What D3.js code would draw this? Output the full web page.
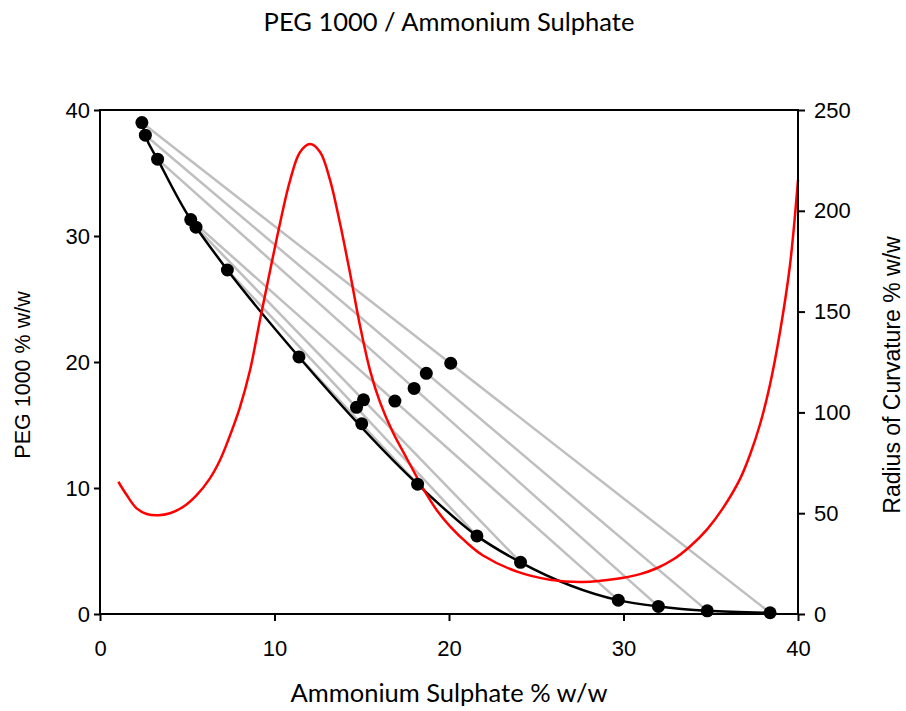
<!DOCTYPE html>
<html lang="en">
<head>
    <meta charset="UTF-8">
    <title>PEG 1000 / Ammonium Sulphate</title>
    <script src="https://d3js.org/d3.v7.min.js"></script>
    <style>
        body { margin: 0; background: #fff; }
        #chart text { fill: #000; }
        .tick text { font-family: "Liberation Sans", Arial, sans-serif; font-size: 22px; }
        .tick line { stroke: #000; stroke-width: 2; }
    </style>
</head>
<body>
    <svg id="chart"></svg>
    <script>
        const width = 906;
        const height = 711;

        // binodal points (top phase end and bottom phase end of each tie line)
        const topAS  = [2.4, 2.6, 3.3, 5.2, 5.5, 7.3, 11.4];
        const topPEG = [39.0, 38.0, 36.1, 31.3, 30.7, 27.3, 20.4];
        const botAS  = [38.4, 34.8, 32.0, 29.7, 24.1, 21.6, 18.2];
        const botPEG = [0.1, 0.25, 0.6, 1.1, 4.1, 6.2, 10.3];
        // feed (overall) compositions on the tie lines
        const feedAS  = [20.1, 18.7, 18.0, 16.9, 15.1, 14.7, 15.0];
        const feedPEG = [19.9, 19.1, 17.9, 16.9, 17.0, 16.4, 15.1];

        // radius of curvature along the binodal
        const curvAS = [1.05, 1.53, 2.10, 2.68, 3.34, 4.01, 4.77, 5.54, 6.30, 6.88, 7.35,
            8.0, 8.60, 9.17, 9.74, 10.32, 10.89, 11.46, 12.03, 12.61, 13.18, 13.75, 14.33, 14.90,
            15.47, 16.05, 16.79, 17.59, 18.34, 18.74, 19.3, 20.06, 21.0, 21.95, 23.90, 25.79, 27.68,
            29.63, 30.95, 31.9, 32.84, 33.81, 34.79, 35.70, 36.68, 37.25, 37.82, 38.40, 38.97, 39.54, 40.0];
        const curvR = [65.6, 59.0, 52.4, 49.6, 49.0, 50.0, 53.2, 59.0, 67.3, 76.4, 86.3,
            102, 121, 146, 170, 194, 215, 229, 233.1, 229.2, 215.3, 193.9, 169, 143,
            121, 105, 90, 77, 65, 59, 51.5, 43.5, 35.5, 29, 21, 17, 15.9,
            17.5, 19.8, 22.7, 27.0, 33.5, 42.0, 52.5, 67.0, 79.0, 94.0, 114.0, 140.0, 173.0, 215.3];

        const xTicks = [0, 10, 20, 30, 40];
        const yTicks = [0, 10, 20, 30, 40];
        const rTicks = [0, 50, 100, 150, 200, 250];

        const plotL = 100, plotR = 798, plotT = 110, plotB = 614;

        const svg = d3.select('#chart')
            .attr('width', width)
            .attr('height', height)
            .style('font-family', '"Liberation Sans", Arial, sans-serif');

        const x = d3.scaleLinear().domain([0, 40]).range([plotL, plotR]);
        const y = d3.scaleLinear().domain([0, 40]).range([plotB, plotT]);
        const yR = d3.scaleLinear().domain([0, 250]).range([plotB, plotT]);

        // tie lines
        const ties = topAS.map((a, i) => ({x1: a, y1: topPEG[i], x2: botAS[i], y2: botPEG[i]}));
        svg.append('g').selectAll('line')
            .data(ties)
            .join('line')
            .attr('x1', d => x(d.x1)).attr('y1', d => y(d.y1))
            .attr('x2', d => x(d.x2)).attr('y2', d => y(d.y2))
            .attr('stroke', '#bfbfbf')
            .attr('stroke-width', 2.5);

        // binodal curve
        const binodal = topAS.map((a, i) => [a, topPEG[i]])
            .concat(botAS.map((a, i) => [a, botPEG[i]]))
            .sort((p, q) => p[0] - q[0]);
        svg.append('path')
            .datum(binodal)
            .attr('fill', 'none')
            .attr('stroke', '#000')
            .attr('stroke-width', 2.5)
            .attr('d', d3.line().x(d => x(d[0])).y(d => y(d[1])).curve(d3.curveMonotoneX));

        // radius of curvature
        svg.append('path')
            .datum(curvAS.map((a, i) => [a, curvR[i]]))
            .attr('fill', 'none')
            .attr('stroke', '#ff0000')
            .attr('stroke-width', 2.5)
            .attr('d', d3.line().x(d => x(d[0])).y(d => yR(d[1])).curve(d3.curveCatmullRom));

        // points
        const pts = binodal.concat(feedAS.map((a, i) => [a, feedPEG[i]]));
        svg.append('g').selectAll('circle')
            .data(pts)
            .join('circle')
            .attr('cx', d => x(d[0]))
            .attr('cy', d => y(d[1]))
            .attr('r', 6.5)
            .attr('fill', '#000');

        // frame
        svg.append('rect')
            .attr('x', plotL).attr('y', plotT)
            .attr('width', plotR - plotL).attr('height', plotB - plotT)
            .attr('fill', 'none')
            .attr('stroke', '#000')
            .attr('stroke-width', 2);

        // axes
        const gx = svg.append('g')
            .attr('transform', `translate(0,${plotB})`)
            .call(d3.axisBottom(x).tickValues(xTicks).tickSize(7).tickSizeOuter(0).tickPadding(19));
        const gy = svg.append('g')
            .attr('transform', `translate(${plotL},0)`)
            .call(d3.axisLeft(y).tickValues(yTicks).tickSize(6).tickSizeOuter(0).tickPadding(4));
        const gr = svg.append('g')
            .attr('transform', `translate(${plotR},0)`)
            .call(d3.axisRight(yR).tickValues(rTicks).tickSize(7).tickSizeOuter(0).tickPadding(9));
        [gx, gy, gr].forEach(g => {
            g.select('.domain').remove();
            g.attr('font-size', null).attr('font-family', null);
        });

        // titles
        svg.append('text')
            .attr('x', 449).attr('y', 31)
            .attr('text-anchor', 'middle')
            .style('font-family', 'Lato, "Open Sans", sans-serif')
            .style('font-size', '25.5px')
            .text('PEG 1000 / Ammonium Sulphate');

        svg.append('text')
            .attr('x', 449).attr('y', 702)
            .attr('text-anchor', 'middle')
            .style('font-family', 'Lato, "Open Sans", sans-serif')
            .style('font-size', '25.5px')
            .text('Ammonium Sulphate % w/w');

        svg.append('text')
            .attr('transform', 'translate(30,375) rotate(-90)')
            .attr('text-anchor', 'middle')
            .style('font-size', '21.5px')
            .text('PEG 1000 % w/w');

        svg.append('text')
            .attr('transform', 'translate(900,375) rotate(-90)')
            .attr('text-anchor', 'middle')
            .style('font-size', '23px')
            .text('Radius of Curvature % w/w');
    </script>
</body>
</html>
